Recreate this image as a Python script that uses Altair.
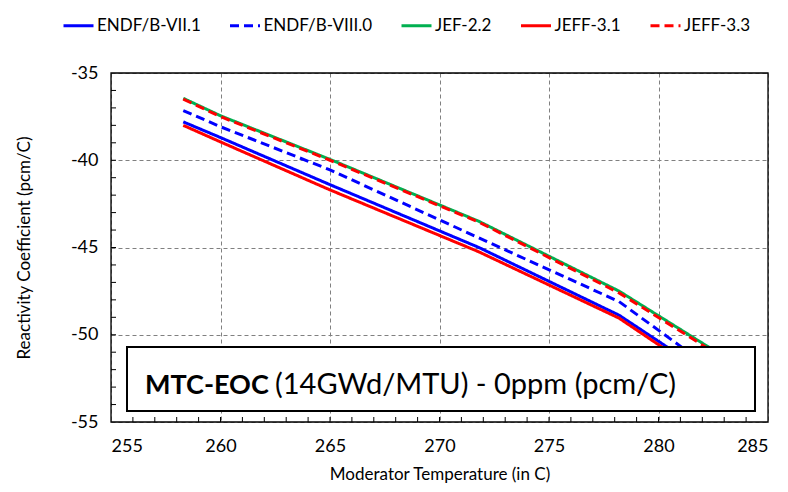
import altair as alt
import pandas as pd

# ---- data ----
series_names = ["ENDF/B-VII.1", "ENDF/B-VIII.0", "JEF-2.2", "JEFF-3.1", "JEFF-3.3"]
temps = [258.3, 260.0, 265.0, 271.8, 278.2, 284.0]
endf_b_vii_1 = [-37.80, -38.70, -41.40, -45.00, -48.88, -53.70]
endf_b_viii_0 = [-37.15, -38.08, -40.55, -44.45, -48.10, -53.40]
jef_2_2 = [-36.45, -37.45, -39.95, -43.50, -47.50, -52.05]
jeff_3_1 = [-38.00, -38.95, -41.70, -45.25, -49.05, -53.95]
jeff_3_3 = [-36.50, -37.50, -40.00, -43.55, -47.60, -52.15]

x_ticks = [255, 260, 265, 270, 275, 280, 285]
y_ticks = [-55, -50, -45, -40, -35]
x_minor = list(range(256, 285))
y_minor = list(range(-54, -35))

box_title_bold = "MTC-EOC"
box_title_rest = "(14GWd/MTU) - 0ppm (pcm/C)"

all_vals = [endf_b_vii_1, endf_b_viii_0, jef_2_2, jeff_3_1, jeff_3_3]
rows = []
for name, vals in zip(series_names, all_vals):
    for t, v in zip(temps, vals):
        rows.append({"series": name, "temp": t, "val": v})
df = pd.DataFrame(rows)

W, H = 657, 349
FONT = "Lato"

xscale = alt.Scale(domain=[255, 285], nice=False, zero=False)
yscale = alt.Scale(domain=[-55, -35], nice=False, zero=False)

legend = alt.Legend(
    title=None, orient="none", legendX=-49, legendY=-64,
    direction="horizontal", columns=5, symbolType="stroke",
    symbolSize=900, symbolStrokeWidth=3, labelFont=FONT,
    labelFontSize=17, labelColor="black", columnPadding=22.5,
    labelOffset=2, padding=0,
)

xaxis = alt.Axis(
    values=x_ticks, title="Moderator Temperature (in C)", grid=True,
    gridDash=[4, 3], gridColor="#808080", gridWidth=1, ticks=False,
    domain=False, labelFont=FONT, labelFontSize=18, labelColor="black",
    labelPadding=15, labelExpr="'' + datum.value",
    titleFont=FONT, titleFontSize=17, titleFontWeight="normal",
    titleColor="black", titleBaseline="middle", titleY=52, titleX=W / 2,
)
yaxis = alt.Axis(
    values=y_ticks, title="Reactivity Coefficient (pcm/C)", grid=True,
    gridDash=[4, 3], gridColor="#808080", gridWidth=1, ticks=False,
    domain=False, labelFont=FONT, labelFontSize=18, labelColor="black",
    labelPadding=13, labelExpr="'' + datum.value",
    titleFont=FONT, titleFontSize=17, titleFontWeight="normal",
    titleColor="black", titleAngle=-90, titleBaseline="middle", titleX=-87,
    titleY=H / 2,
)

lines = alt.Chart(df).mark_line(strokeWidth=3).encode(
    x=alt.X("temp:Q", scale=xscale, axis=xaxis),
    y=alt.Y("val:Q", scale=yscale, axis=yaxis),
    color=alt.Color("series:N", scale=alt.Scale(
        domain=series_names,
        range=["#0000FF", "#0000FF", "#00B050", "#FF0000", "#FF0000"]),
        legend=legend),
    strokeDash=alt.StrokeDash("series:N", scale=alt.Scale(
        domain=series_names,
        range=[[1, 0], [9, 5], [1, 0], [1, 0], [9, 5]]),
        legend=legend),
)

xminor = alt.Chart(pd.DataFrame({"v": x_minor})).mark_rule(
    color="black", strokeWidth=1).encode(
    x=alt.X("v:Q", scale=xscale),
    y=alt.value(H), y2=alt.value(H - 5))
yminor = alt.Chart(pd.DataFrame({"v": y_minor})).mark_rule(
    color="black", strokeWidth=1).encode(
    y=alt.Y("v:Q", scale=yscale),
    x=alt.value(0), x2=alt.value(5))

border = alt.Chart(pd.DataFrame({"a": [0]})).mark_rect(
    fillOpacity=0, stroke="black", strokeWidth=1.3).encode(
    x=alt.value(0), x2=alt.value(W), y=alt.value(0), y2=alt.value(H))

box = alt.Chart(pd.DataFrame({"a": [0]})).mark_rect(
    fill="white", stroke="black", strokeWidth=2).encode(
    x=alt.value(16), x2=alt.value(644), y=alt.value(274), y2=alt.value(338))

txt_bold = alt.Chart(pd.DataFrame({"t": [box_title_bold]})).mark_text(
    align="left", baseline="alphabetic", font=FONT, fontSize=27,
    fontWeight="bold", color="black").encode(
    x=alt.value(34), y=alt.value(321), text="t:N")
txt_rest = alt.Chart(pd.DataFrame({"t": [box_title_rest]})).mark_text(
    align="left", baseline="alphabetic", font=FONT, fontSize=29,
    color="black").encode(
    x=alt.value(164), y=alt.value(321), text="t:N")

chart = alt.layer(xminor, yminor, lines, border, box, txt_bold, txt_rest).properties(
    width=W, height=H,
    autosize=alt.AutoSizeParams(type="none"),
    padding={"left": 103, "top": 65, "right": 12, "bottom": 62},
).configure_view(stroke=None).configure(background="white")

chart.save("out.html", embed_options={"renderer": "svg", "actions": False})
